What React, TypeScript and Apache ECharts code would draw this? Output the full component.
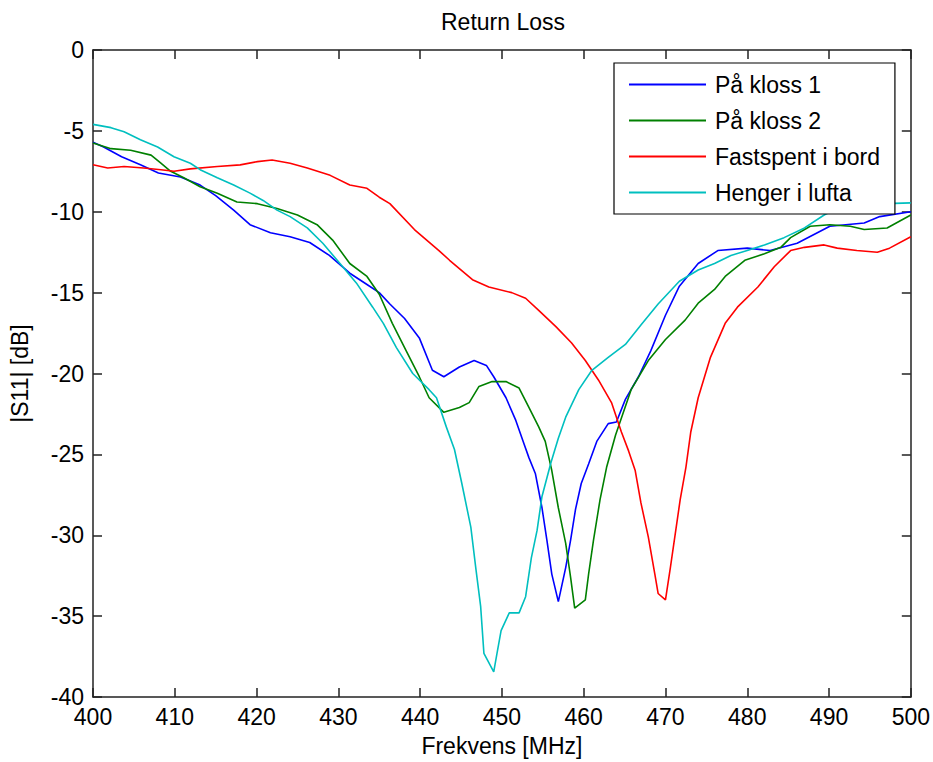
import React, { useEffect, useRef } from "react";
import * as echarts from "echarts";

const seriesNames = ["På kloss 1", "På kloss 2", "Fastspent i bord", "Henger i lufta"];
const seriesColors = ["#0000ff", "#008000", "#ff0000", "#00bfbf"];

const klossEn: [number, number][] = [
  [400, -5.7], [401.3, -6.0], [403.5, -6.6], [405.8, -7.1], [408, -7.6], [410.7, -7.85], [413.1, -8.35],
  [415, -9.0], [417.2, -9.9], [419.2, -10.8], [421.7, -11.3], [424.1, -11.55], [426.5, -11.9], [428.9, -12.7],
  [431.4, -13.8], [433.5, -14.5], [435, -15.0], [436.3, -15.7], [438.1, -16.6], [439.9, -17.8], [441.5, -19.8],
  [442.9, -20.2], [444.8, -19.6], [446.6, -19.2], [448.1, -19.5], [449, -20.2], [450.5, -21.5], [451.7, -22.9],
  [452.6, -24.2], [453.3, -25.2], [454.1, -26.2], [454.9, -28.3], [455.5, -30.3], [456.1, -32.4], [456.9, -34.1],
  [457.8, -32.0], [458.4, -30.3], [459, -28.4], [459.7, -26.8], [460.6, -25.6], [461.6, -24.2], [463, -23.1],
  [464, -23.0], [465.1, -21.6], [466.7, -20.2], [468.2, -18.6], [470, -16.4], [471.7, -14.6], [474, -13.2],
  [476.4, -12.4], [480, -12.25], [482.8, -12.4], [486.1, -11.95], [490.1, -10.9], [494.3, -10.7], [496.2, -10.3],
  [500, -10.0],
];

const klossTo: [number, number][] = [
  [400, -5.75], [402.2, -6.1], [404.6, -6.2], [407.1, -6.5], [408.3, -7.0], [409.5, -7.5], [411.1, -7.9],
  [413.1, -8.45], [415.2, -8.85], [417.6, -9.4], [420.1, -9.5], [422.5, -9.8], [425, -10.2], [427.4, -10.8],
  [429.3, -11.75], [431.4, -13.2], [433.5, -14.0], [435, -15.1], [436.6, -16.9], [438.3, -18.6], [439.9, -20.2],
  [441.1, -21.5], [442.9, -22.4], [444.8, -22.1], [446, -21.8], [447.2, -20.8], [448.8, -20.5], [450.5, -20.5],
  [452.1, -20.9], [453.3, -22.1], [454.5, -23.3], [455.3, -24.2], [456.1, -26.0], [456.9, -28.3], [457.8, -30.5],
  [458.4, -32.6], [458.9, -34.5], [460.2, -34.0], [460.6, -32.4], [461.2, -30.3], [462, -27.8], [462.8, -25.8],
  [463.9, -23.8], [465.8, -21.0], [467.9, -19.2], [470, -17.9], [472.4, -16.7], [474, -15.65], [476, -14.8],
  [477.3, -14.0], [479.7, -13.0], [482.1, -12.6], [484.1, -12.2], [485.3, -11.6], [487.7, -10.9], [490.1, -10.8],
  [492.6, -10.9], [494.3, -11.1], [497.1, -11.0], [500, -10.2],
];

const fastspent: [number, number][] = [
  [400, -7.1], [401.8, -7.3], [403.8, -7.2], [406.2, -7.3], [408.3, -7.4], [409.9, -7.5], [411.9, -7.35],
  [415.2, -7.2], [418, -7.1], [420.1, -6.9], [421.9, -6.8], [424.1, -7.0], [426.2, -7.3], [429, -7.75],
  [431.4, -8.35], [433.5, -8.55], [435, -9.1], [436.3, -9.5], [439.3, -11.1], [442.3, -12.4], [443.6, -13.0],
  [446.4, -14.2], [448.4, -14.65], [451.2, -15.0], [452.9, -15.35], [454.5, -16.1], [456.6, -17.1], [458.5, -18.1],
  [460.2, -19.2], [461.8, -20.4], [463.4, -21.8], [464.6, -23.6], [465.5, -24.8], [466.3, -26.0], [467, -28.0],
  [467.9, -30.1], [468.7, -32.4], [469.1, -33.6], [470, -34.0], [470.6, -32.0], [471.2, -29.9], [471.8, -27.8],
  [472.5, -25.8], [473.1, -23.6], [474, -21.5], [475.5, -19.0], [477.3, -16.9], [478.8, -15.9], [481.3, -14.65],
  [483.3, -13.4], [485.3, -12.4], [487, -12.2], [489.4, -12.05], [491, -12.25], [493.4, -12.4], [495.9, -12.5],
  [497.4, -12.25], [500, -11.55],
];

const hengerLufta: [number, number][] = [
  [400, -4.6], [402.2, -4.8], [403.8, -5.05], [405.8, -5.55], [407.9, -6.0], [409.9, -6.6], [411.9, -7.0],
  [413.1, -7.4], [415.2, -7.9], [417.2, -8.35], [419.2, -8.85], [420.8, -9.3], [422.5, -9.9], [424.1, -10.3],
  [426.2, -11.0], [428.1, -11.95], [430.2, -13.2], [432.2, -14.4], [434.2, -15.9], [435.5, -16.9], [437.1, -18.4],
  [439.1, -20.0], [441.1, -21.0], [442, -21.5], [443.2, -23.3], [444.2, -24.7], [445.1, -26.8], [446.2, -29.5],
  [446.8, -32.0], [447.4, -34.4], [447.8, -37.3], [449, -38.45], [449.4, -37.3], [449.9, -35.9], [450.9, -34.8],
  [452.1, -34.8], [452.9, -33.8], [453.6, -31.4], [454.3, -29.7], [454.9, -27.6], [456, -25.5], [456.9, -24.0],
  [457.8, -22.7], [459.4, -21.0], [461, -19.8], [463, -19.0], [465.1, -18.2], [467, -17.0], [469.1, -15.7],
  [471.7, -14.3], [474, -13.6], [476, -13.2], [478, -12.7], [480, -12.4], [482.1, -12.05], [484.5, -11.6],
  [487, -11.0], [489.4, -10.2], [491, -9.8], [494, -9.6], [497, -9.5], [500, -9.45],
];

const seriesData = [klossEn, klossTo, fastspent, hengerLufta];

const titleText = "Return Loss";
const xName = "Frekvens [MHz]";
const yName = "|S11| [dB]";

const FONT = "'Liberation Sans', Arial, sans-serif";
const FS = 23;
const AX = "#222";

export default function App() {
  const ref = useRef<HTMLDivElement>(null);
  useEffect(() => {
    if (!ref.current) return;
    const chart = echarts.init(ref.current, undefined, { renderer: "svg" });
    const gridLeft = 92, gridTop = 50, gridW = 822, gridH = 647;
    const axisCommon = {
      type: "value" as const,
      axisLine: { show: true, onZero: false, lineStyle: { color: AX, width: 1.5 } },
      axisTick: { show: true, inside: true, length: 9, lineStyle: { color: AX, width: 1.5 } },
      splitLine: { show: false },
    };
    chart.setOption({
      animation: false,
      backgroundColor: "#fff",
      textStyle: { fontFamily: FONT },
      graphic: [
        {
          type: "text",
          x: gridLeft + gridW / 2,
          y: 21.5,
          style: {
            text: titleText,
            fill: "#000",
            font: `${FS}px ${FONT}`,
            textAlign: "center",
            textVerticalAlign: "middle",
          },
        },
      ],
      grid: { left: gridLeft, top: gridTop, width: gridW, height: gridH, containLabel: false },
      legend: {
        orient: "vertical",
        left: 614,
        top: 63,
        padding: [10, 15, 10, 15],
        itemWidth: 77,
        itemHeight: 2,
        itemGap: 13,
        icon: "rect",
        borderColor: "#000",
        borderWidth: 1.2,
        backgroundColor: "#fff",
        textStyle: { fontSize: FS, color: "#000", fontFamily: FONT, padding: [0, 0, 0, 4] },
        data: seriesNames.map((name, i) => ({ name, itemStyle: { color: seriesColors[i] } })),
      },
      xAxis: [
        {
          ...axisCommon,
          position: "bottom",
          min: 400,
          max: 500,
          interval: 10,
          name: xName,
          nameLocation: "middle",
          nameGap: 37,
          nameTextStyle: { fontSize: FS, color: "#000", fontFamily: FONT },
          axisLabel: { show: true, fontSize: FS, color: "#000", margin: 8, fontFamily: FONT },
        },
        {
          ...axisCommon,
          position: "top",
          min: 400,
          max: 500,
          interval: 10,
          axisLabel: { show: false },
        },
      ],
      yAxis: [
        {
          ...axisCommon,
          position: "left",
          min: -40,
          max: 0,
          interval: 5,
          name: yName,
          nameLocation: "middle",
          nameGap: 62,
          nameTextStyle: { fontSize: FS, color: "#000", fontFamily: FONT },
          axisLabel: { show: true, fontSize: FS, color: "#000", margin: 9, fontFamily: FONT },
        },
        {
          ...axisCommon,
          position: "right",
          min: -40,
          max: 0,
          interval: 5,
          axisLabel: { show: false },
        },
      ],
      series: seriesNames.map((name, i) => ({
        name,
        type: "line",
        xAxisIndex: 0,
        yAxisIndex: 0,
        data: seriesData[i],
        symbol: "none",
        showSymbol: false,
        color: seriesColors[i],
        lineStyle: { color: seriesColors[i], width: 1.6 },
        emphasis: { disabled: true },
      })),
    });
    return () => chart.dispose();
  }, []);
  return <div ref={ref} style={{ width: 933, height: 762, position: "absolute", left: 0, top: 0 }} />;
}
